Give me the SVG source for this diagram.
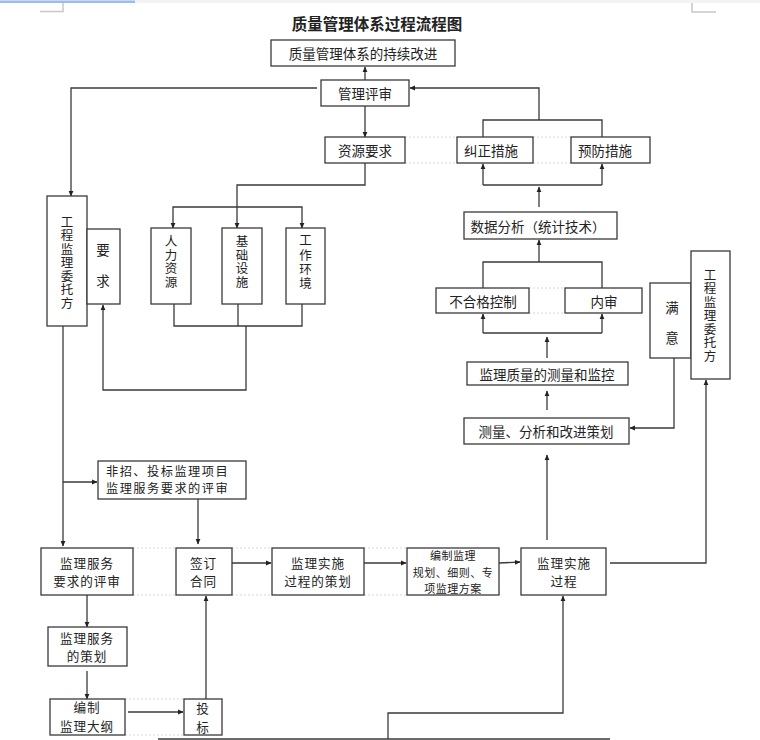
<svg xmlns="http://www.w3.org/2000/svg" width="760" height="740" viewBox="0 0 760 740">
<defs>
<marker id="ah" markerWidth="6" markerHeight="6" refX="5" refY="3" orient="auto" markerUnits="userSpaceOnUse">
<path d="M0,0.6 L5.5,3 L0,5.4 Z" fill="#222"/>
</marker>
<style>
.bx{fill:#fff;stroke:#3a3a3a;stroke-width:1.3}
.t{font-family:"Noto Sans CJK SC","Liberation Sans",sans-serif;font-size:13.5px;fill:#222;text-anchor:middle;dominant-baseline:central}
.t2{font-size:12.6px;letter-spacing:0.9px}
.ts{font-size:11px;letter-spacing:0.5px}
.tv{font-family:"Noto Sans CJK SC","Liberation Sans",sans-serif;font-size:12.5px;fill:#222;text-anchor:middle;writing-mode:vertical-rl;text-orientation:upright;letter-spacing:1px}
.tl{text-anchor:start}
.ln{fill:none;stroke:#3a3a3a;stroke-width:1.3}
.ar{marker-end:url(#ah)}
.dot{fill:none;stroke:#d6d6d6;stroke-width:1;stroke-dasharray:2 2}
.crop{fill:none;stroke:#c8c8c8;stroke-width:1.5}
</style>
</defs>
<rect x="0" y="0" width="760" height="740" fill="#fff"/>
<rect x="0" y="0" width="760" height="3" fill="#f3f3f3"/>
<rect x="0" y="0.5" width="135" height="2.5" fill="#9dbde8"/>
<path class="crop" d="M63,3 V11.5 H40"/>
<path class="crop" d="M692,3 V12 H716"/>
<text class="t" x="377" y="23" style="font-size:15.5px;font-weight:bold">质量管理体系过程流程图</text>

<g id="dotted">
<path class="dot" d="M405,137 H457 M405,163 H457 M533,137 H571 M533,163 H571"/>
<path class="dot" d="M529,288 H565 M529,313 H565"/>
<path class="dot" d="M133,548 H176 M133,595 H176 M232,548 H272 M232,595 H272 M364,548 H407 M364,595 H407"/>
<path class="dot" d="M125,699 H184 M125,735 H184"/>
</g>

<g id="connectors">
<path class="ln ar" d="M365,80 V67"/>
<path class="ln ar" d="M317,88 H71 V196"/>
<path class="ln ar" d="M539,120 V88 H410"/>
<path class="ln ar" d="M365,106 V137"/>
<path class="ln" d="M483,137 V120 H602 V137"/>
<path class="ln ar" d="M365,163 V185 H237 V228"/>
<path class="ln ar" d="M237,207 H173 V228"/>
<path class="ln ar" d="M237,207 H302 V228"/>
<path class="ln" d="M174,304 V326 H302 V304 M238,304 V326"/>
<path class="ln ar" d="M246,326 V390 H103 V305"/>
<path class="ln ar" d="M63,326 V546"/>
<path class="ln ar" d="M63,482 H97"/>
<path class="ln ar" d="M198,499 V544"/>
<path class="ln ar" d="M230,563 H271"/>
<path class="ln ar" d="M364,563 H406"/>
<path class="ln ar" d="M499,563 L520,562"/>
<path class="ln ar" d="M610,563 H706 V380"/>
<path class="ln ar" d="M674,358 V428 H630"/>
<path class="ln ar" d="M547,540 V455"/>
<path class="ln ar" d="M547,410 V391"/>
<path class="ln ar" d="M547,358 V337"/>
<path class="ln ar" d="M483,333 V314"/>
<path class="ln ar" d="M602,333 V314"/>
<path class="ln" d="M483,333 H602"/>
<path class="ln" d="M483,288 V262 H602 V288"/>
<path class="ln ar" d="M539,262 V240"/>
<path class="ln ar" d="M539,207 V187"/>
<path class="ln" d="M483,185 H602"/>
<path class="ln ar" d="M483,185 V164"/>
<path class="ln ar" d="M602,185 V164"/>
<path class="ln ar" d="M87,595 V627"/>
<path class="ln ar" d="M87,671 V699"/>
<path class="ln ar" d="M128,712 H183"/>
<path class="ln ar" d="M206,712 V596"/>
<path class="ln ar" d="M388,739 V713 H563 V596"/>
<path class="ln" d="M158,739 H610"/>
</g>

<g id="n_gaijin"><rect class="bx" x="271" y="40" width="184" height="26"/><text class="t" x="363" y="53">质量管理体系的持续改进</text></g>
<g id="n_pingshen"><rect class="bx" x="321" y="80" width="88" height="26"/><text class="t" x="365" y="93">管理评审</text></g>
<g id="n_ziyuan"><rect class="bx" x="325" y="137" width="80" height="26"/><text class="t" x="365" y="150">资源要求</text></g>
<g id="n_jiuzheng"><rect class="bx" x="457" y="137" width="76" height="26"/><text class="t" x="491" y="150">纠正措施</text></g>
<g id="n_yufang"><rect class="bx" x="571" y="137" width="79" height="26"/><text class="t" x="605" y="150">预防措施</text></g>
<g id="n_shuju"><rect class="bx" x="464" y="212" width="153" height="27"/><text class="t" x="538" y="225.5">数据分析（统计技术）</text></g>
<g id="n_buhege"><rect class="bx" x="436" y="288" width="93" height="25"/><text class="t" x="483" y="300.5">不合格控制</text></g>
<g id="n_neishen"><rect class="bx" x="565" y="288" width="77" height="25"/><text class="t" x="604" y="300.5">内审</text></g>
<g id="n_jiance"><rect class="bx" x="467" y="362" width="161" height="23"/><text class="t" x="547" y="373.5">监理质量的测量和监控</text></g>
<g id="n_celiang"><rect class="bx" x="464" y="418" width="165" height="26"/><text class="t" x="546" y="431">测量、分析和改进策划</text></g>
<g id="n_manyi"><rect class="bx" x="650" y="283" width="41" height="75"/><text class="t" x="672" y="307">满</text><text class="t" x="672" y="337">意</text></g>
<g id="n_weituo_r"><rect class="bx" x="691" y="251" width="39" height="128"/><text class="tv" x="710" y="316">工程监理委托方</text></g>
<g id="n_weituo_l"><rect class="bx" x="47" y="196" width="40" height="130"/><text class="tv" x="67" y="263">工程监理委托方</text></g>
<g id="n_yaoqiu"><rect class="bx" x="87" y="229" width="33" height="75"/><text class="t" x="103" y="249">要</text><text class="t" x="103" y="280">求</text></g>
<g id="n_renli"><rect class="bx" x="151" y="228" width="40" height="76"/><text class="tv" x="171" y="262">人力资源</text></g>
<g id="n_jichu"><rect class="bx" x="222" y="228" width="40" height="76"/><text class="tv" x="242" y="262">基础设施</text></g>
<g id="n_gongzuo"><rect class="bx" x="286" y="228" width="39" height="76"/><text class="tv" x="305.5" y="263" style="letter-spacing:1.8px">工作环境</text></g>
<g id="n_feizhao"><rect class="bx" x="98" y="461" width="148" height="38"/><text class="t t2 tl" x="106" y="470.5" style="font-size:12.2px;letter-spacing:1.5px">非招、投标监理项目</text><text class="t t2 tl" x="106" y="488" style="font-size:12.2px;letter-spacing:1.5px">监理服务要求的评审</text></g>
<g id="n_fuwu_ps"><rect class="bx" x="41" y="548" width="92" height="47"/><text class="t t2" x="87" y="562">监理服务</text><text class="t t2" x="87" y="580.5">要求的评审</text></g>
<g id="n_qianding"><rect class="bx" x="176" y="548" width="56" height="47"/><text class="t t2" x="203.5" y="562">签订</text><text class="t t2" x="203.5" y="580.5">合同</text></g>
<g id="n_cehua"><rect class="bx" x="272" y="548" width="92" height="47"/><text class="t t2" x="318" y="562">监理实施</text><text class="t t2" x="318" y="580.5">过程的策划</text></g>
<g id="n_guihua"><rect class="bx" x="407" y="548" width="92" height="47"/><text class="t ts" x="453" y="555">编制监理</text><text class="t ts" x="453" y="571.5">规划、细则、专</text><text class="t ts" x="453" y="588">项监理方案</text></g>
<g id="n_shishi"><rect class="bx" x="521" y="548" width="85" height="47"/><text class="t t2" x="564" y="562">监理实施</text><text class="t t2" x="564" y="580.5">过程</text></g>
<g id="n_fuwu_ch"><rect class="bx" x="48" y="627" width="79" height="39"/><text class="t t2" x="87" y="637">监理服务</text><text class="t t2" x="87" y="655.5">的策划</text></g>
<g id="n_dagang"><rect class="bx" x="50" y="699" width="75" height="36"/><text class="t t2" x="87" y="706.5">编制</text><text class="t t2" x="87" y="725">监理大纲</text></g>
<g id="n_toubiao"><rect class="bx" x="184" y="699" width="38" height="36"/><text class="t t2" x="203" y="707.5">投</text><text class="t t2" x="203" y="726">标</text></g>
</svg>
